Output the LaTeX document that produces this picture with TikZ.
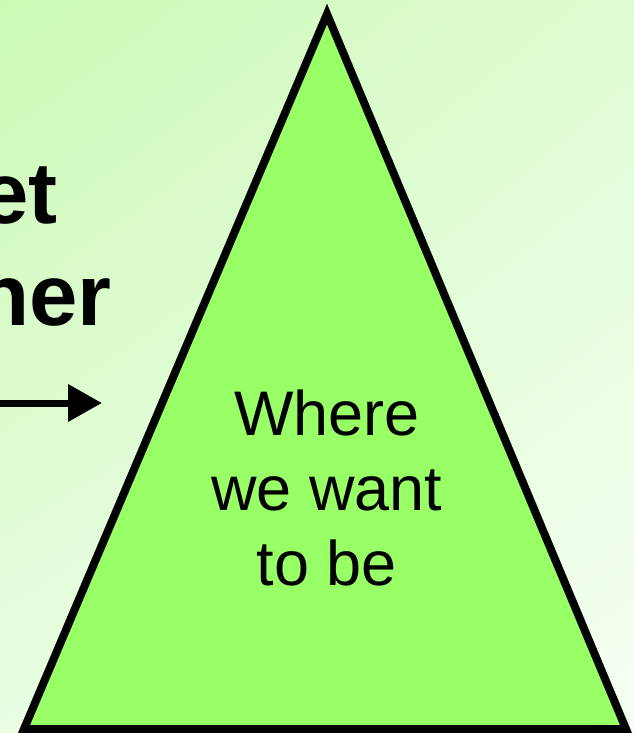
\documentclass[tikz,border=0pt]{standalone}
\usepackage{fontspec}
\setmainfont{Liberation Sans}
\usetikzlibrary{arrows.meta,shadings}
\definecolor{mintlight}{RGB}{204, 250, 182}
\definecolor{mintpale}{RGB}{222, 252, 210}
\definecolor{mintfog}{RGB}{232, 253, 226}
\definecolor{mintwhite}{RGB}{246, 255, 244}
\definecolor{limegreen}{RGB}{153, 255, 102}

\begin{document}
\begin{tikzpicture}[x=1pt, y=-1pt]
            \useasboundingbox (0,0) rectangle (634,733);
            \clip (0,0) rectangle (634,733);
            \shade[upper left=mintlight, upper right=mintpale, lower left=mintfog, lower right=mintwhite]
                 (0,0) rectangle (634,733);
            % cropped heading on the left
            \node[anchor=base east, inner sep=0pt, font=\fontsize{87}{102}\selectfont\bfseries] (top) at (58,223) {et};
            \node[anchor=base east, inner sep=0pt, font=\fontsize{87}{102}\selectfont\bfseries] (bottom) at (112,325) {ner};
            \coordinate (start) at (-5,403);
            \coordinate (tip) at (102,403);
            \draw[line width=7pt, -{Triangle[length=34pt, width=36pt]}] (start) -- (tip);
            % the goal
            \coordinate (apex) at (327,14);
            \coordinate (left) at (24,729);
            \coordinate (right) at (626,729);
            \filldraw[black, fill=limegreen, line width=8pt, line join=miter] (apex) -- (right) -- (left) -- cycle;
            \node[align=center, inner sep=0pt, font=\fontsize{63}{75}\selectfont] (goal) at (327,488) {Where\\we want\\to be};
        \end{tikzpicture}
\end{document}
